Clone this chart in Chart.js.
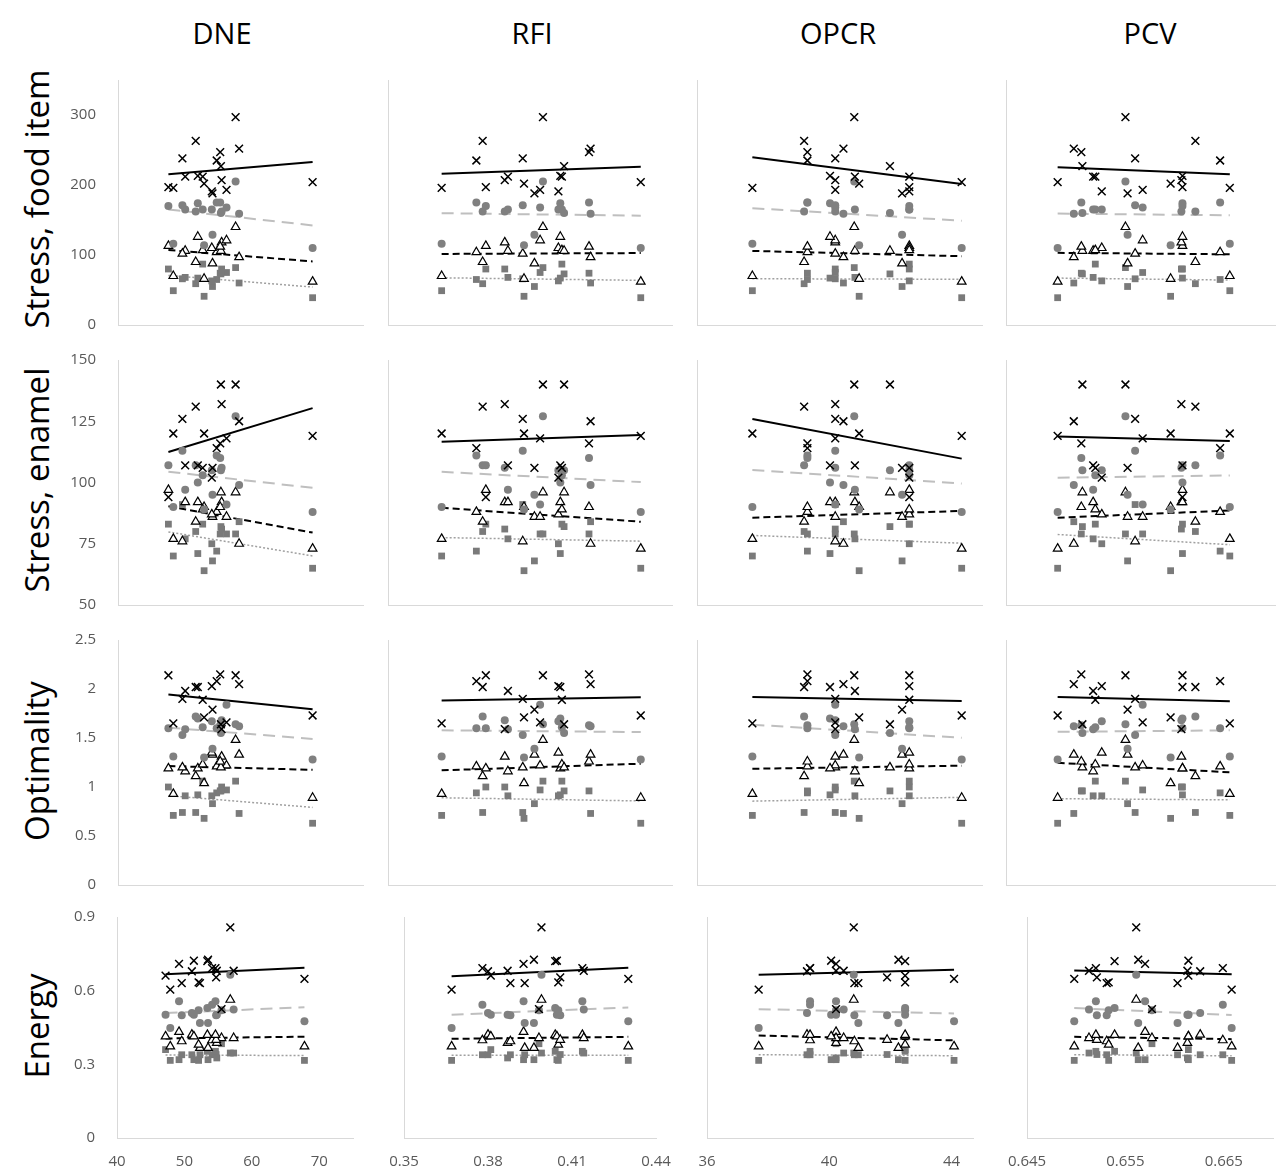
<!DOCTYPE html>
<html>
<head>
<meta charset="utf-8">
<script src="https://cdn.jsdelivr.net/npm/chart.js@4.4.0/dist/chart.umd.min.js"></script>
<style>
body{margin:0;background:#fff;font-family:'Open Sans',sans-serif;}
#wrap{position:relative;width:1278px;height:1169px;overflow:hidden;}
.ttl{position:absolute;font-size:29px;color:#000;transform:translate(-50%,-50%);white-space:nowrap;}
.rlab{position:absolute;font-size:33px;color:#000;transform:translate(-50%,-50%) rotate(-90deg);white-space:nowrap;}
.pan{position:absolute;}
</style>
</head>
<body>
<div id="wrap"></div>
<script>
// column / row titles
const colTitles = ['DNE', 'RFI', 'OPCR', 'PCV'];
const rowTitles = ['Stress, food item', 'Stress, enamel', 'Optimality', 'Energy'];

// x value of each specimen, one array per shape metric
const dneX  = [47.9, 54.1, 51.1, 47.2, 54.8, 49.6, 49.2, 52.3, 53.5, 55.5, 56.8, 53.4, 51.4, 52.1, 54.7, 54.6, 57.3, 67.8];
const rfiX  = [0.367, 0.378, 0.380, 0.381, 0.387, 0.388, 0.3927, 0.3931, 0.3964, 0.3982, 0.3991, 0.404, 0.4046, 0.4051, 0.4058, 0.4137, 0.4142, 0.4301];
const opcrX = [37.69, 39.37, 39.27, 42.48, 40.22, 40.82, 40.22, 40.95, 42.26, 40.22, 40.8, 42.48, 40.06, 42.48, 41.89, 39.37, 40.47, 44.08];
const pcvX  = [0.6658, 0.6649, 0.6626, 0.6614, 0.6613, 0.6531, 0.6570, 0.6603, 0.6563, 0.6577, 0.6561, 0.6539, 0.6614, 0.6533, 0.6521, 0.6520, 0.6513, 0.6498];

// y values: x-mark, circle, triangle, square series for each row
const foodX = [196, 235, 263, 197, 207, 212, 238, 202, 188, 193, 297, 191, 213, 212, 227, 247, 252, 204];
const foodC = [116, 175, 162, 170, 162, 165, 171, 114, 129, 168, 205, 165, 174, 165, 160, 175, 159, 110];
const foodT = [70, 104, 90, 113, 118, 106, 102, 66, 88, 121, 140, 110, 126, 107, 106, 112, 97, 62];
const foodS = [49, 65, 59, 80, 80, 68, 66, 41, 55, 75, 82, 63, 67, 87, 73, 74, 60, 39];

const enamX = [120, 114, 131, 94, 132, 107, 126, 120, 106, 118, 140, 102, 107, 106, 140, 116, 125, 119];
const enamC = [90, 111, 107, 107, 106, 97, 113, 89, 95, 91, 127, 105, 100, 103, 105, 110, 99, 88];
const enamT = [77, 88, 84, 97, 92, 92, 76, 90, 86, 86, 96, 87, 92, 89, 96, 90, 75, 73];
const enamS = [70, 72, 80, 83, 81, 77, 91, 64, 68, 79, 79, 75, 71, 83, 82, 79, 84, 65];

const optX = [1.65, 2.08, 2.02, 2.14, 1.59, 1.98, 1.90, 1.71, 1.79, 1.66, 2.14, 2.03, 2.02, 1.89, 1.64, 2.15, 2.05, 1.73];
const optC = [1.31, 1.60, 1.72, 1.60, 1.68, 1.59, 1.53, 1.30, 1.39, 1.84, 1.64, 1.67, 1.70, 1.61, 1.55, 1.63, 1.62, 1.28];
const optT = [0.93, 1.21, 1.11, 1.19, 1.31, 1.16, 1.20, 1.04, 1.33, 1.22, 1.48, 1.35, 1.19, 1.23, 1.20, 1.26, 1.33, 0.89];
const optS = [0.71, 0.94, 0.74, 1.00, 1.00, 0.91, 0.74, 0.68, 0.83, 0.97, 1.06, 0.91, 0.92, 1.06, 0.96, 0.96, 0.73, 0.63];

const enX = [0.604, 0.692, 0.679, 0.661, 0.681, 0.631, 0.709, 0.631, 0.726, 0.525, 0.858, 0.720, 0.722, 0.634, 0.654, 0.692, 0.681, 0.648];
const enC = [0.448, 0.543, 0.509, 0.502, 0.502, 0.500, 0.557, 0.468, 0.468, 0.520, 0.665, 0.529, 0.502, 0.520, 0.500, 0.557, 0.523, 0.475];
const enT = [0.373, 0.398, 0.421, 0.414, 0.387, 0.394, 0.432, 0.367, 0.367, 0.407, 0.563, 0.420, 0.414, 0.380, 0.400, 0.420, 0.407, 0.373];
const enS = [0.316, 0.339, 0.339, 0.360, 0.326, 0.339, 0.319, 0.339, 0.319, 0.384, 0.346, 0.353, 0.319, 0.316, 0.340, 0.353, 0.346, 0.316];

// axis ranges and tick labels
const xMin = [40, 0.35, 36, 0.645];
const xMax = [75, 0.44, 44.7, 0.67];
const xTicks = [[40, 50, 60, 70], [0.35, 0.38, 0.41, 0.44], [36, 40, 44], [0.645, 0.655, 0.665]];
const yMin = [0, 50, 0, 0];
const yMax = [350, 150, 2.5, 0.9];
const yTicks = [[0, 100, 200, 300], [50, 75, 100, 125, 150], [0, 0.5, 1, 1.5, 2, 2.5], [0, 0.3, 0.6, 0.9]];

const XS = [dneX, rfiX, opcrX, pcvX];
const YS = [[foodX, foodC, foodT, foodS], [enamX, enamC, enamT, enamS], [optX, optC, optT, optS], [enX, enC, enT, enS]];

// plot-area placement in the page
const ROWS = [[80, 325], [360, 605], [640, 885], [917, 1138]];
const COLS = [[118, 363], [388, 672], [697, 982], [1006, 1275]];
const COLS_LAST = [[117, 353], [404, 656], [707, 973], [1027, 1273]];
const TTL_X = [222, 532, 838, 1150];
const RLAB_Y = [199, 480, 761, 1026];

const STY = [
  { ps: 'crossRot', r: 5.5, bc: '#000', bg: '#000', bw: 1.5, lc: '#000', dash: [], lw: 2 },
  { ps: 'circle', r: 4, bc: '#808080', bg: '#808080', bw: 0, lc: '#bfbfbf', dash: [12, 7], lw: 2 },
  { ps: 'triangle', r: 5, bc: '#000', bg: '#fff', bw: 1.2, lc: '#000', dash: [7, 4], lw: 2 },
  { ps: 'rect', r: 4.8, bc: '#7a7a7a', bg: '#7a7a7a', bw: 0, lc: '#a0a0a0', dash: [2, 2], lw: 1.5 }
];

Chart.defaults.font.family = "'Open Sans', sans-serif";
Chart.defaults.animation = false;

function el(id){ return document.getElementById(id); }

function trend(xs, ys) {
  const n = xs.length;
  const mx = xs.reduce((a, v) => a + v, 0) / n;
  const my = ys.reduce((a, v) => a + v, 0) / n;
  let sxy = 0, sxx = 0;
  for (let i = 0; i < n; i++) { sxy += (xs[i] - mx) * (ys[i] - my); sxx += (xs[i] - mx) * (xs[i] - mx); }
  const b = sxy / sxx;
  const lo = Math.min(...xs), hi = Math.max(...xs);
  return [{ x: lo, y: my + b * (lo - mx) }, { x: hi, y: my + b * (hi - mx) }];
}

function panel(r, c) {
  const last = r === 3;
  const [l, rt] = last ? COLS_LAST[c] : COLS[c];
  const [t, b] = ROWS[r];
  // generous padding so the tick-label overflow never moves the plot area
  const padL = c === 0 ? 70 : 30, padR = 30, padT = 30, padB = last ? 58 : 30;
  const yW = c === 0 ? 50 : 0, xH = last ? 28 : 0;
  const W = rt - l + padL + padR, H = b - t + padT + padB;

  const d = document.createElement('div');
  d.className = 'pan';
  d.style.left = (l - padL) + 'px';
  d.style.top = (t - padT) + 'px';
  d.style.width = W + 'px';
  d.style.height = H + 'px';
  const cv = document.createElement('canvas');
  cv.width = W; cv.height = H;
  cv.style.width = W + 'px'; cv.style.height = H + 'px';
  d.appendChild(cv);
  el('wrap').appendChild(d);

  const xs = XS[c];
  const pts = [], lines = [];
  YS[r].forEach((ys, k) => {
    const s = STY[k];
    pts.push({
      data: xs.map((x, i) => ({ x, y: ys[i] })),
      pointStyle: s.ps, pointRadius: s.r, borderColor: s.bc, backgroundColor: s.bg,
      borderWidth: s.bw, showLine: false
    });
    lines.push({
      data: trend(xs, ys), showLine: true, pointRadius: 0,
      borderColor: s.lc, borderWidth: s.lw, borderDash: s.dash, fill: false
    });
  });

  new Chart(cv, {
    type: 'scatter',
    data: { datasets: pts.concat(lines) },
    options: {
      responsive: false,
      layout: { autoPadding: false, padding: { left: padL - yW, right: padR, top: padT, bottom: padB - xH } },
      plugins: { legend: { display: false }, tooltip: { enabled: false } },
      scales: {
        x: {
          type: 'linear', min: xMin[c], max: xMax[c],
          grid: { display: false },
          border: { display: true, color: '#d9d9d9', width: 1 },
          ticks: { display: last, color: '#595959', font: { size: 15 }, padding: 7, maxRotation: 0, callback: v => String(v) },
          afterBuildTicks: s => { s.ticks = xTicks[c].map(v => ({ value: v })); },
          afterFit: s => { s.height = xH; }
        },
        y: {
          type: 'linear', min: yMin[r], max: yMax[r],
          grid: { display: false },
          border: { display: true, color: '#d9d9d9', width: 1 },
          ticks: { display: c === 0, color: '#595959', font: { size: 15 }, padding: 14, callback: v => String(v) },
          afterBuildTicks: s => { s.ticks = yTicks[r].map(v => ({ value: v })); },
          afterFit: s => { s.width = yW; }
        }
      }
    }
  });
}

colTitles.forEach((t, i) => {
  const d = document.createElement('div');
  d.className = 'ttl';
  d.textContent = t;
  d.style.left = TTL_X[i] + 'px';
  d.style.top = '32px';
  el('wrap').appendChild(d);
});

rowTitles.forEach((t, i) => {
  const d = document.createElement('div');
  d.className = 'rlab';
  d.textContent = t;
  d.style.left = '36px';
  d.style.top = RLAB_Y[i] + 'px';
  el('wrap').appendChild(d);
});

for (let r = 0; r < 4; r++) for (let c = 0; c < 4; c++) panel(r, c);
</script>
</body>
</html>
